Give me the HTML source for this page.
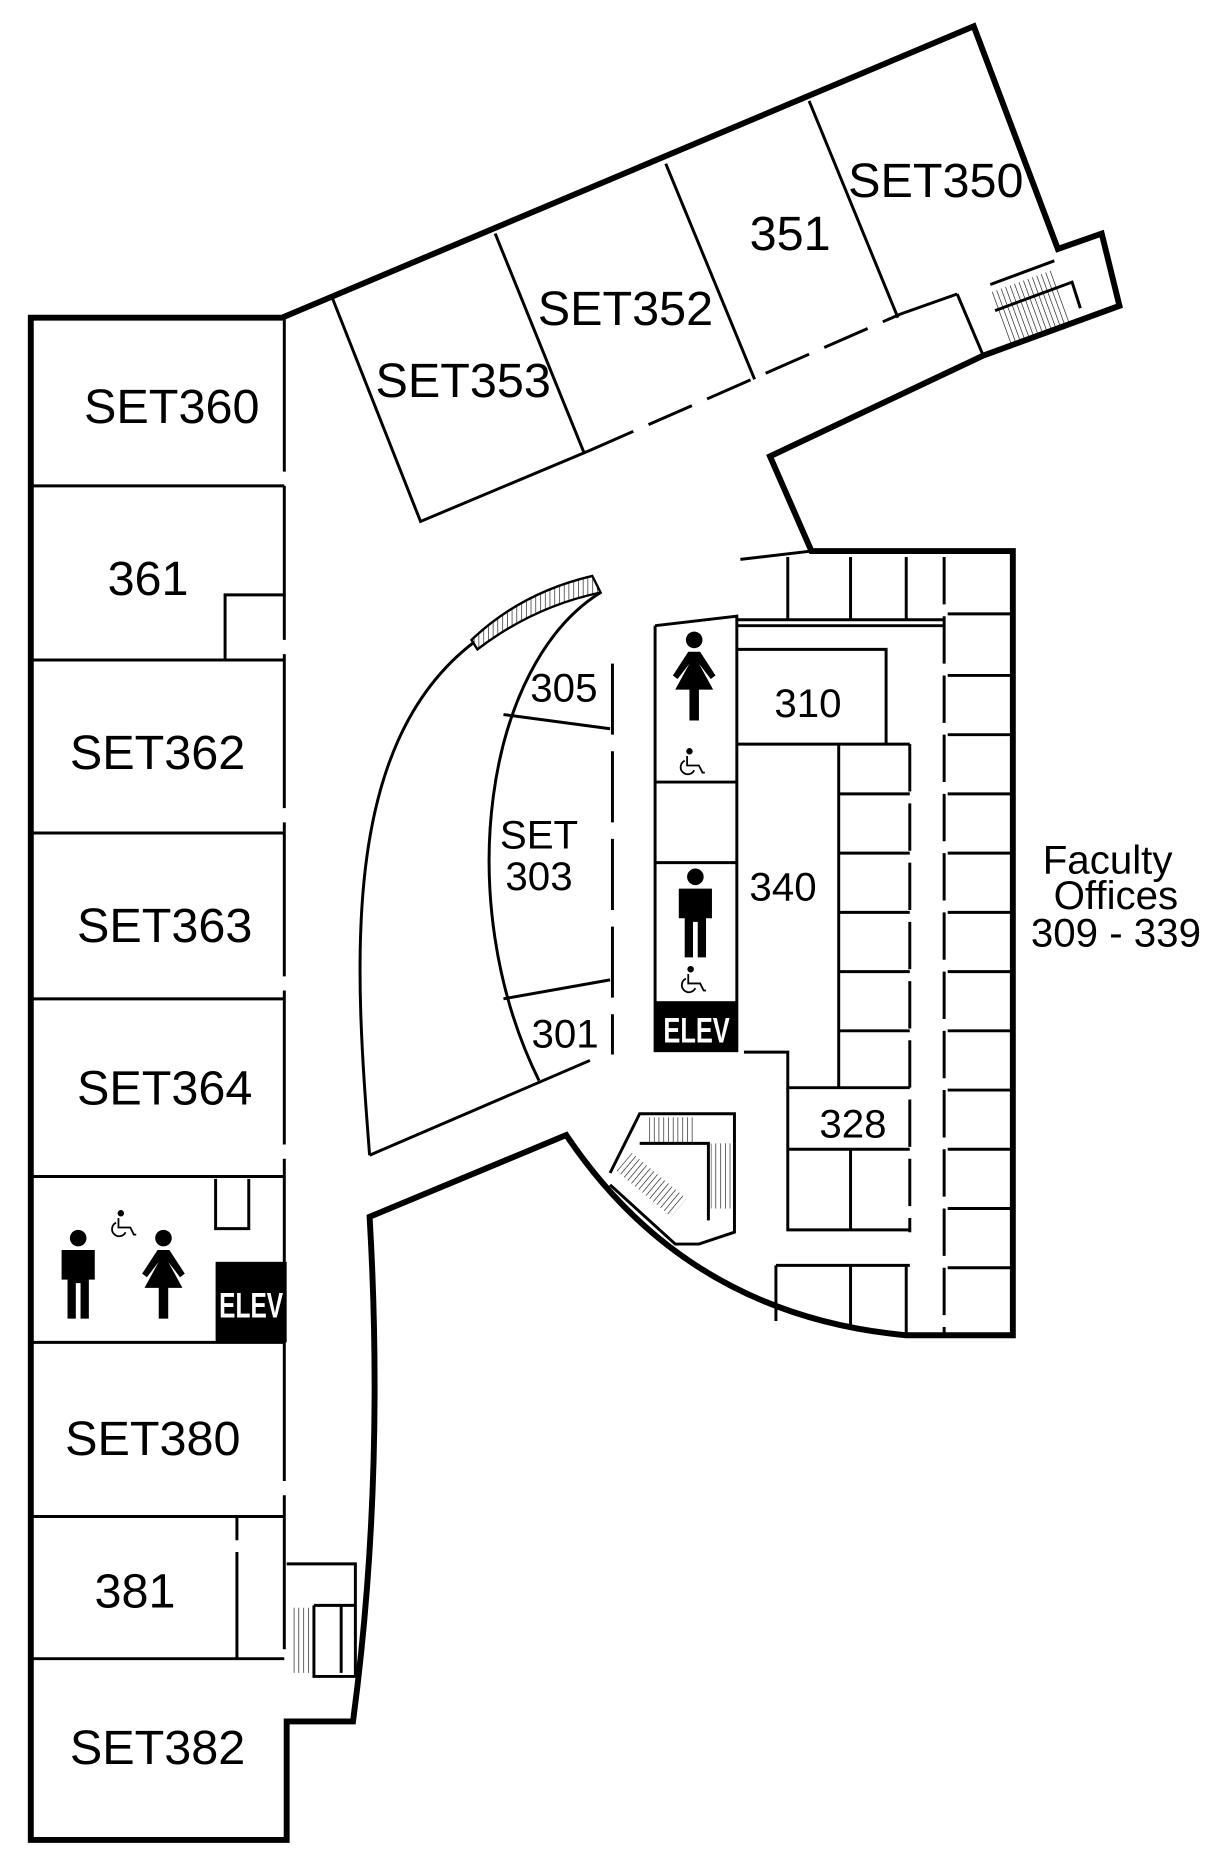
<!DOCTYPE html>
<html><head><style>html,body{margin:0;padding:0;background:#fff}svg{display:block}</style></head><body>
<svg width="1232" height="1865" viewBox="0 0 1040 1574" xmlns="http://www.w3.org/2000/svg" font-family="Liberation Sans, sans-serif">
<defs>
<pattern id="h" width="4" height="4" patternUnits="userSpaceOnUse"><path d="M0 0V4" stroke="#000" stroke-width="1"/></pattern>
<g id="man"><circle cx="0" cy="-30" r="7"/><path d="M-14 -20H14V5H9V38H2V8H-2V38H-9V5H-14Z"/></g>
<g id="woman"><circle cx="0" cy="-30" r="7"/><path d="M-5 -20H5L18 0 14 3 4 -10 16 12H4V38H-4V12H-16L-4 -10-14 3-18 0Z"/></g>
<g id="wc" fill="none" stroke="#000" stroke-width="1.5"><circle cx="0" cy="-8" r="2" fill="#000"/><path d="M-2 -4V4H8L11 10H13M-4 0A6 6 0 1 0 4 8"/></g>
</defs>
<g fill="none" stroke="#000">
<path stroke-width="5" d="M26 268H238L822 22L893 210L930 197L945 258L830 300L650 385L685 465H855V1127H765Q580 1110 478 958L312 1027Q325 1250 298 1453H242V1553H26Z"/>
<g stroke-width="2.5">
<path d="M280 250L355 440L498 380"/>
<path d="M498 380L760 265" stroke-dasharray="40 14"/>
<path d="M418 197L493 382M562 138L637 320M683 85L758 268"/>
<path d="M760 265L808 248M808 248L830 300M836 240L890 220M840 262L905 238L912 260"/>
</g>
<rect x="843" y="236" width="55" height="50" fill="url(#h)" stroke="none" transform="rotate(-20 870 260)"/>
<g stroke-width="2.5">
<path d="M240 268V1400" stroke-dasharray="130 12"/>
<path d="M26 410H240M26 557H240M26 703H240M26 843H240M26 993H240M26 1133H240M26 1280H240M26 1400H240"/>
<path d="M190 557V502H240M182 995V1037H210V995"/>
<path d="M200 1280V1400" stroke-dasharray="20 10 90"/>
<path d="M242 1320H300V1415M265 1355H300M265 1355V1415H300M288 1355V1412"/>
</g>
<rect x="245" y="1357" width="20" height="55" fill="url(#h)" stroke="none"/>
<rect x="182" y="1065" width="60" height="68" fill="#000" stroke="none"/>
<g stroke-width="2.5">
<path d="M312 975C300 820 285 630 400 542"/>
<path d="M507 500C410 560 380 760 455 912"/>
<path d="M312 975L498 895"/>
<path d="M425 603L515 615M425 843L515 827"/>
<path d="M517 560V890" stroke-dasharray="60 14"/>
</g>
<path d="M398 540Q440 500 500 486L507 500Q450 512 403 548Z" fill="url(#h)" stroke-width="2"/>
<g stroke-width="2.5">
<path d="M553 528L622 520V888M553 528V888M553 660H622M553 728H622"/>
<path d="M622 528H797M622 548H748V628M622 628H768"/>
<path d="M628 888H665V918H768"/>
</g>
<rect x="553" y="845" width="69" height="43" fill="#000" stroke="none"/>
<g stroke-width="2.5">
<path d="M625 472L685 465"/>
<path d="M665 470V523M718 470V523M765 470V523M622 523H797"/>
<path d="M797 470V1127" stroke-dasharray="40 10"/>
<path d="M768 628V1040" stroke-dasharray="40 10"/>
<path d="M708 628V918"/>
<path d="M708 670H768M708 720H768M708 770H768M708 820H768M708 870H768"/>
<path d="M800 518H855M800 570H855M800 620H855M800 670H855M800 720H855M800 770H855M800 820H855M800 870H855M800 920H855M800 970H855M800 1020H855M800 1070H855"/>
<path d="M665 918V1038H768M665 970H768M718 970V1038"/>
<path d="M655 1068H768M655 1068V1115M718 1068V1120M765 1068V1125"/>
</g>
<g stroke-width="2.5">
<path d="M515 990L540 940H620V1040L590 1050L570 1050L515 1000"/>
<path d="M540 965H598V1030"/>
</g>
<rect x="545" y="943" width="40" height="22" fill="url(#h)" stroke="none"/>
<rect x="520" y="990" width="60" height="20" fill="url(#h)" stroke="none" transform="rotate(40 550 1000)"/>
<rect x="600" y="965" width="18" height="55" fill="url(#h)" stroke="none"/>
</g>
<g fill="#000">
<use href="#woman" x="586" y="570"/>
<use href="#man" x="587" y="770"/>
<use href="#man" x="66" y="1075"/>
<use href="#woman" x="138" y="1075"/>
</g>
<use href="#wc" x="582" y="642"/>
<use href="#wc" x="583" y="826"/>
<use href="#wc" x="102" y="1032"/>
<g fill="#fff" font-weight="bold" font-size="30" text-anchor="middle">
<text x="588" y="880" textLength="56" lengthAdjust="spacingAndGlyphs">ELEV</text>
<text x="212" y="1112" textLength="54" lengthAdjust="spacingAndGlyphs">ELEV</text>
</g>
<g font-size="41" text-anchor="middle" fill="#000">
<text x="145" y="357">SET360</text>
<text x="125" y="502">361</text>
<text x="133" y="649">SET362</text>
<text x="139" y="795">SET363</text>
<text x="139" y="932">SET364</text>
<text x="129" y="1228">SET380</text>
<text x="114" y="1357">381</text>
<text x="133" y="1489">SET382</text>
<text x="391" y="335">SET353</text>
<text x="528" y="274">SET352</text>
<text x="667" y="211">351</text>
<text x="790" y="166">SET350</text>
</g>
<g font-size="34" text-anchor="middle" fill="#000">
<text x="476" y="592">305</text>
<text x="455" y="716">SET</text>
<text x="455" y="751">303</text>
<text x="477" y="884">301</text>
<text x="682" y="605">310</text>
<text x="661" y="760">340</text>
<text x="720" y="960">328</text>
<text x="935" y="737">Faculty</text>
<text x="942" y="767">Offices</text>
<text x="942" y="799">309 - 339</text>
</g>
</svg>
</body></html>
